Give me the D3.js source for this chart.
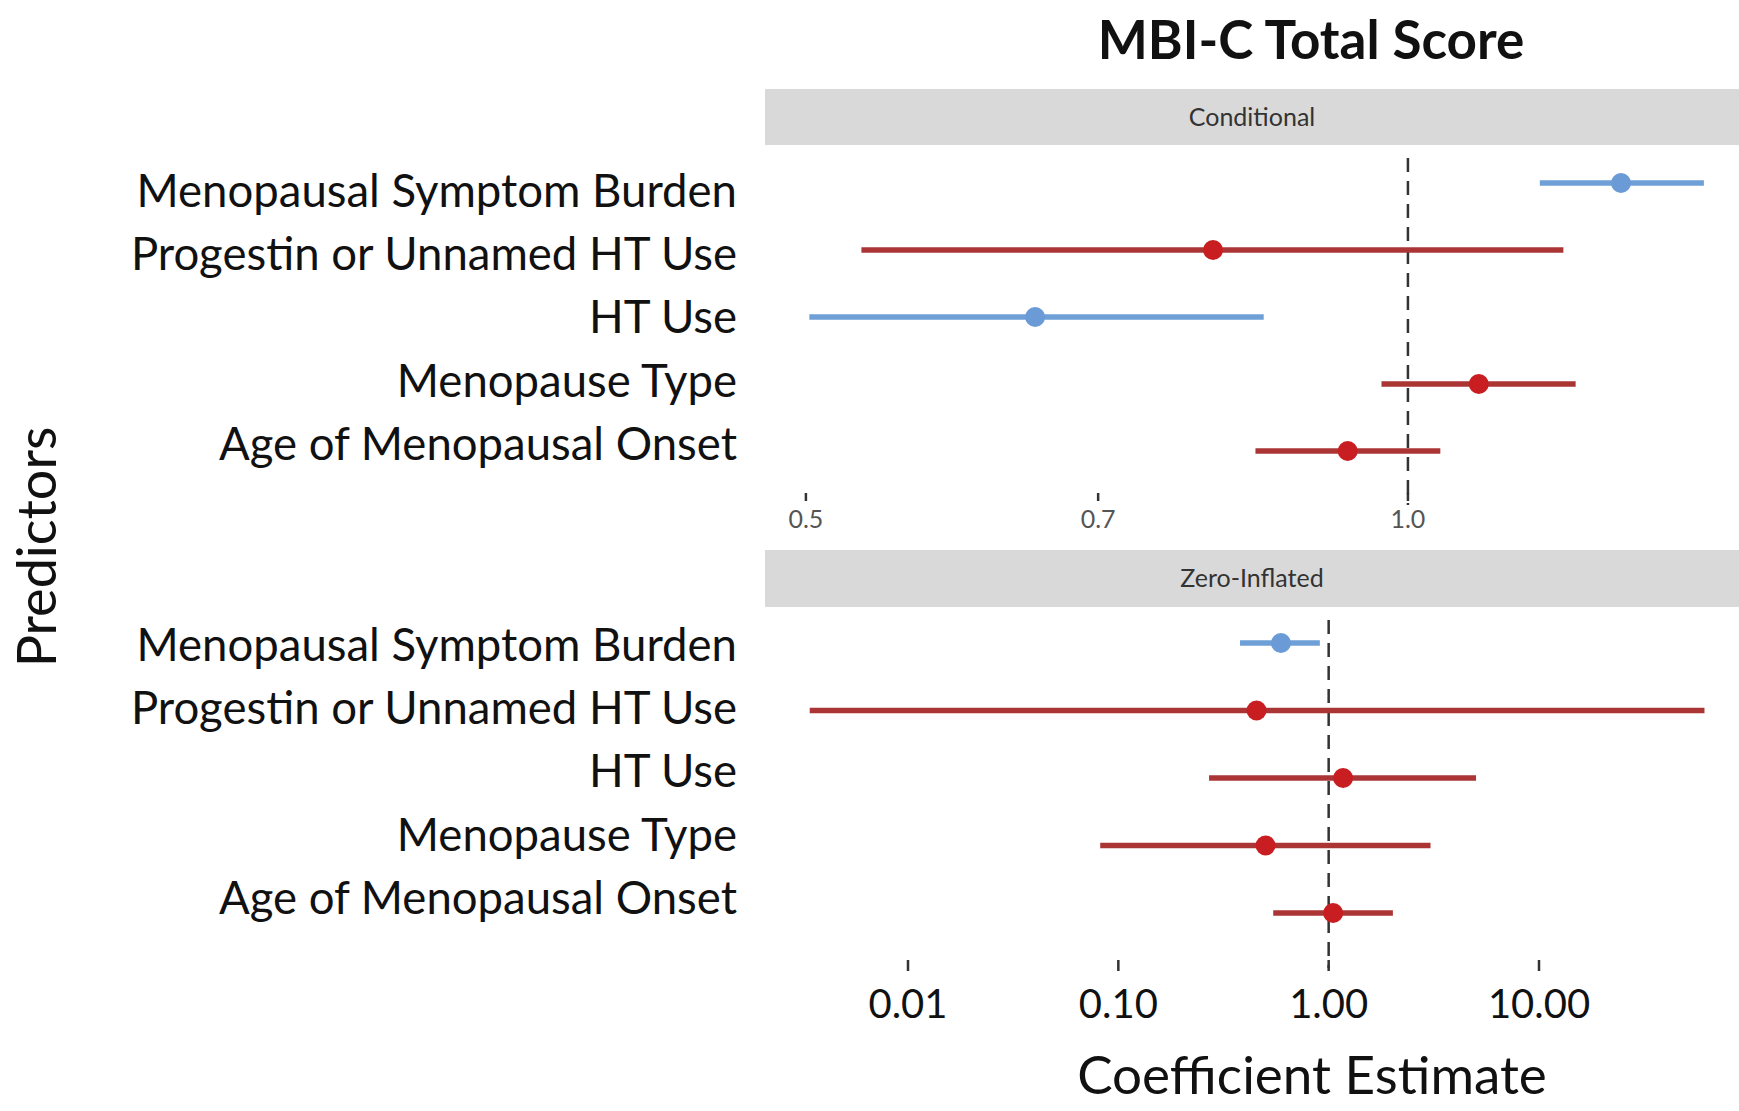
<!DOCTYPE html>
<html>
<head>
<meta charset="utf-8">
<script src="https://cdn.jsdelivr.net/npm/d3@7"></script>
<style>
  html, body { margin: 0; padding: 0; background: #fff; }
  svg { display: block; font-family: Lato, "Open Sans", sans-serif; }
</style>
</head>
<body>
<svg id="chart" width="1739" height="1111"></svg>
<script>
// ---- Data ----
const predictors = ["Menopausal Symptom Burden", "Progestin or Unnamed HT Use", "HT Use", "Menopause Type", "Age of Menopausal Onset"];

// Conditional model (estimates with 95% CI)
const condEst  = [1.278, 0.799, 0.651, 1.085, 0.933];
const condLow  = [1.164, 0.533, 0.502, 0.970, 0.839];
const condHigh = [1.406, 1.196, 0.847, 1.213, 1.038];
const condSig  = ["pos", "neg", "pos", "neg", "neg"];

// Zero-inflated model
const ziEst  = [0.593, 0.454, 1.171, 0.501, 1.05];
const ziLow  = [0.379, 0.00341, 0.270, 0.082, 0.545];
const ziHigh = [0.908, 61.2, 5.02, 3.05, 2.02];
const ziSig  = ["pos", "neg", "neg", "neg", "neg"];

const condTicks = [0.5, 0.7, 1.0];
const condTickLabels = ["0.5", "0.7", "1.0"];
const ziTicks = [0.01, 0.1, 1, 10];
const ziTickLabels = ["0.01", "0.10", "1.00", "10.00"];

const title = "MBI-C Total Score";
const stripLabels = ["Conditional", "Zero-Inflated"];
const xTitle = "Coefficient Estimate";
const yTitle = "Predictors";

// ---- Layout ----
const svg = d3.select("#chart");
const panelLeft = 765, panelRight = 1739;
const lineCol = { pos: "#6e9fd6", neg: "#ab3535" };
const dotCol  = { pos: "#6b9bd6", neg: "#c81e22" };

const panels = [
  {
    strip: [89, 145],
    rows: [183, 451], labels: [191, 444],
    x: d3.scaleLog().domain([0.477, 1.464]).range([panelLeft, panelRight]),
    est: condEst, lo: condLow, hi: condHigh, sig: condSig,
    ticks: condTicks, tickLabels: condTickLabels,
    tickY: [493, 501], tickLabelY: 528, tickFont: 25, tickColor: "#555",
    dash: [158, 505]
  },
  {
    strip: [550, 607],
    rows: [643, 913], labels: [645, 898],
    x: d3.scaleLog().domain([0.00209, 89.3]).range([panelLeft, panelRight]),
    est: ziEst, lo: ziLow, hi: ziHigh, sig: ziSig,
    ticks: ziTicks, tickLabels: ziTickLabels,
    tickY: [960, 971], tickLabelY: 1018, tickFont: 40, tickColor: "#111",
    dash: [620, 968]
  }
];

// Title
svg.append("text")
  .attr("x", 1311).attr("y", 59)
  .attr("text-anchor", "middle")
  .attr("font-weight", 700)
  .attr("font-size", 53)
  .attr("fill", "#111")
  .text(title);

panels.forEach((p, pi) => {
  const g = svg.append("g");
  const y = d3.scalePoint().domain(predictors).range(p.rows);
  const yl = d3.scalePoint().domain(predictors).range(p.labels);

  // strip
  g.append("rect")
    .attr("x", panelLeft).attr("y", p.strip[0])
    .attr("width", panelRight - panelLeft).attr("height", p.strip[1] - p.strip[0])
    .attr("fill", "#d9d9d9");
  g.append("text")
    .attr("x", (panelLeft + panelRight) / 2).attr("y", (p.strip[0] + p.strip[1]) / 2)
    .attr("dy", "0.35em").attr("text-anchor", "middle")
    .attr("font-size", 25).attr("fill", "#333")
    .text(stripLabels[pi]);

  // reference line at 1
  g.append("line")
    .attr("x1", p.x(1)).attr("x2", p.x(1))
    .attr("y1", p.dash[0]).attr("y2", p.dash[1])
    .attr("stroke", "#333").attr("stroke-width", 2.5)
    .attr("stroke-dasharray", "14,9");

  const data = predictors.map((name, i) => ({ name, est: p.est[i], lo: p.lo[i], hi: p.hi[i], sig: p.sig[i] }));

  // CI lines
  g.selectAll(".ci").data(data).enter().append("line")
    .attr("x1", d => p.x(d.lo)).attr("x2", d => p.x(d.hi))
    .attr("y1", d => y(d.name)).attr("y2", d => y(d.name))
    .attr("stroke", d => lineCol[d.sig]).attr("stroke-width", 5.5);

  // points
  g.selectAll(".pt").data(data).enter().append("circle")
    .attr("cx", d => p.x(d.est)).attr("cy", d => y(d.name))
    .attr("r", 10).attr("fill", d => dotCol[d.sig]);

  // y labels
  g.selectAll(".lab").data(predictors).enter().append("text")
    .attr("x", 737).attr("y", d => yl(d))
    .attr("dy", "0.35em").attr("text-anchor", "end")
    .attr("font-size", 45.5).attr("fill", "#111")
    .text(d => d);

  // x ticks
  g.selectAll(".tk").data(p.ticks).enter().append("line")
    .attr("x1", d => p.x(d)).attr("x2", d => p.x(d))
    .attr("y1", p.tickY[0]).attr("y2", p.tickY[1])
    .attr("stroke", "#333").attr("stroke-width", 2.5);
  g.selectAll(".tl").data(p.ticks).enter().append("text")
    .attr("x", d => p.x(d)).attr("y", p.tickLabelY)
    .attr("text-anchor", "middle")
    .attr("font-size", p.tickFont).attr("fill", p.tickColor)
    .text((d, i) => p.tickLabels[i]);
});

// Axis titles
svg.append("text")
  .attr("x", 1312).attr("y", 1094)
  .attr("text-anchor", "middle")
  .attr("font-size", 53).attr("fill", "#111")
  .text(xTitle);

svg.append("text")
  .attr("transform", "translate(56,547) rotate(-90)")
  .attr("text-anchor", "middle")
  .attr("font-size", 54).attr("fill", "#111")
  .text(yTitle);
</script>
</body>
</html>
